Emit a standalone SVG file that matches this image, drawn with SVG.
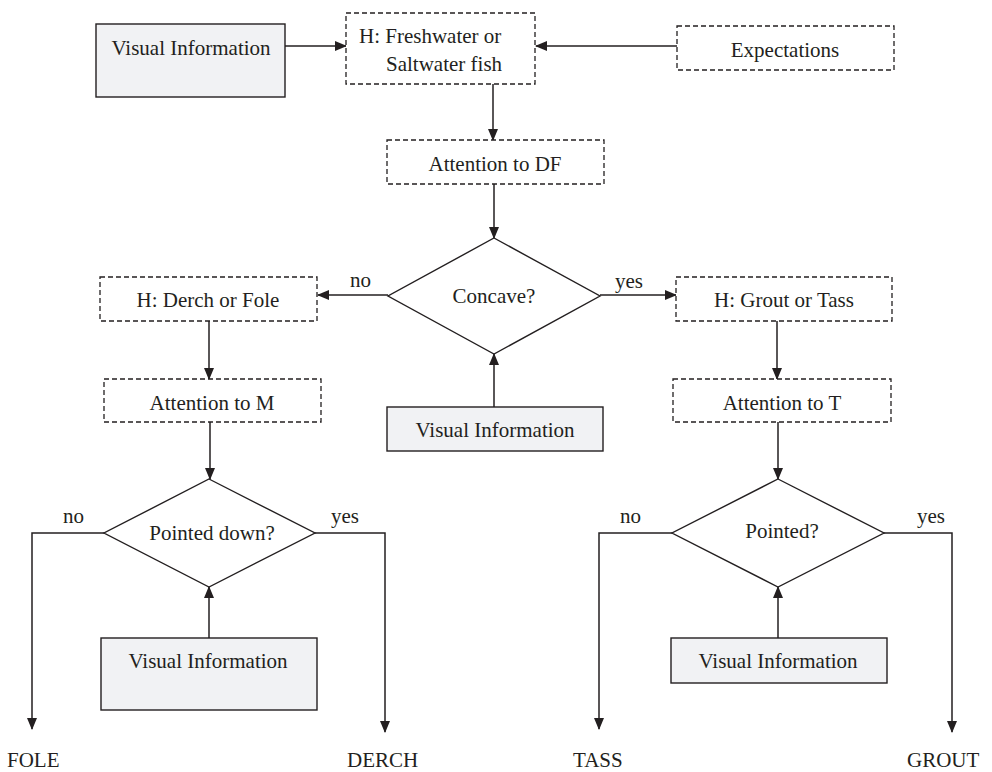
<svg xmlns="http://www.w3.org/2000/svg" width="992" height="772" viewBox="0 0 992 772">
  <style>
    text { font-family: "Liberation Serif", "Times New Roman", serif; font-size: 21px; fill: #231f20; }
    .solid { fill: #f1f2f4; stroke: #231f20; stroke-width: 1.4; }
    .dash { fill: #ffffff; stroke: #231f20; stroke-width: 1.3; stroke-dasharray: 5 3; }
    .dec { fill: #ffffff; stroke: #231f20; stroke-width: 1.4; }
    .edge { fill: none; stroke: #231f20; stroke-width: 1.5; marker-end: url(#arrow); }
  </style>
  <defs>
    <marker id="arrow" markerUnits="userSpaceOnUse" markerWidth="12" markerHeight="10" viewBox="0 0 12 10" refX="11" refY="5" orient="auto">
      <path d="M0,0 L12,5 L0,10 Z" fill="#231f20"/>
    </marker>
  </defs>
  <rect width="992" height="772" fill="#ffffff"/>

  <!-- arrows and branch labels -->
  <g id="connectors">
    <path class="edge" d="M285,46 H346"/>
    <path class="edge" d="M677,46 H536"/>
    <path class="edge" d="M493,84 V140"/>
    <path class="edge" d="M494,184 V238"/>
    <path class="edge" d="M388,295 H318"/>
    <path class="edge" d="M600,295 H676"/>
    <path class="edge" d="M209,321 V379"/>
    <path class="edge" d="M777,321 V379"/>
    <path class="edge" d="M210,422 V479"/>
    <path class="edge" d="M778,422 V479"/>
    <path class="edge" d="M494,407 V354"/>
    <path class="edge" d="M104,533 H32 V729"/>
    <path class="edge" d="M315,533 H385 V732"/>
    <path class="edge" d="M209,638 V587"/>
    <path class="edge" d="M672,533 H599 V729"/>
    <path class="edge" d="M884,533 H952 V732"/>
    <path class="edge" d="M778,638 V587"/>
    <text x="350" y="287">no</text>
    <text x="615" y="288">yes</text>
    <text x="63" y="523">no</text>
    <text x="331" y="523">yes</text>
    <text x="620" y="523">no</text>
    <text x="917" y="523">yes</text>
  </g>

  <g id="visual-top">
    <rect class="solid" x="96" y="24" width="189" height="73"/>
    <text x="191" y="55" text-anchor="middle">Visual Information</text>
  </g>
  <g id="hyp-fish">
    <rect class="dash" x="346" y="13" width="189" height="71"/>
    <text x="359" y="43">H: Freshwater or</text>
    <text x="386" y="71">Saltwater fish</text>
  </g>
  <g id="expectations">
    <rect class="dash" x="677" y="26" width="217" height="44"/>
    <text x="785" y="57" text-anchor="middle">Expectations</text>
  </g>
  <g id="attention-df">
    <rect class="dash" x="387" y="140" width="217" height="44"/>
    <text x="495" y="171" text-anchor="middle">Attention to DF</text>
  </g>
  <g id="concave">
    <polygon class="dec" points="494,238 600,296 494,354 388,296"/>
    <text x="494" y="303" text-anchor="middle">Concave?</text>
  </g>
  <g id="visual-center">
    <rect class="solid" x="387" y="407" width="216" height="44"/>
    <text x="495" y="437" text-anchor="middle">Visual Information</text>
  </g>
  <g id="hyp-derch-fole">
    <rect class="dash" x="100" y="277" width="217" height="44"/>
    <text x="208" y="307" text-anchor="middle">H: Derch or Fole</text>
  </g>
  <g id="hyp-grout-tass">
    <rect class="dash" x="676" y="277" width="216" height="44"/>
    <text x="784" y="307" text-anchor="middle">H: Grout or Tass</text>
  </g>
  <g id="attention-m">
    <rect class="dash" x="104" y="379" width="217" height="43"/>
    <text x="212" y="410" text-anchor="middle">Attention to M</text>
  </g>
  <g id="attention-t">
    <rect class="dash" x="673" y="379" width="218" height="43"/>
    <text x="782" y="410" text-anchor="middle">Attention to T</text>
  </g>
  <g id="pointed-down">
    <polygon class="dec" points="209,479 315,533 209,587 104,533"/>
    <text x="212" y="540" text-anchor="middle">Pointed down?</text>
  </g>
  <g id="pointed">
    <polygon class="dec" points="778,479 884,533 778,587 672,533"/>
    <text x="782" y="538" text-anchor="middle">Pointed?</text>
  </g>
  <g id="visual-left">
    <rect class="solid" x="101" y="638" width="216" height="72"/>
    <text x="208" y="668" text-anchor="middle">Visual Information</text>
  </g>
  <g id="visual-right">
    <rect class="solid" x="671" y="638" width="216" height="45"/>
    <text x="778" y="668" text-anchor="middle">Visual Information</text>
  </g>
  <g id="fole"><text x="7" y="767">FOLE</text></g>
  <g id="derch"><text x="347" y="767">DERCH</text></g>
  <g id="tass"><text x="573" y="767">TASS</text></g>
  <g id="grout"><text x="907" y="767">GROUT</text></g>
</svg>
